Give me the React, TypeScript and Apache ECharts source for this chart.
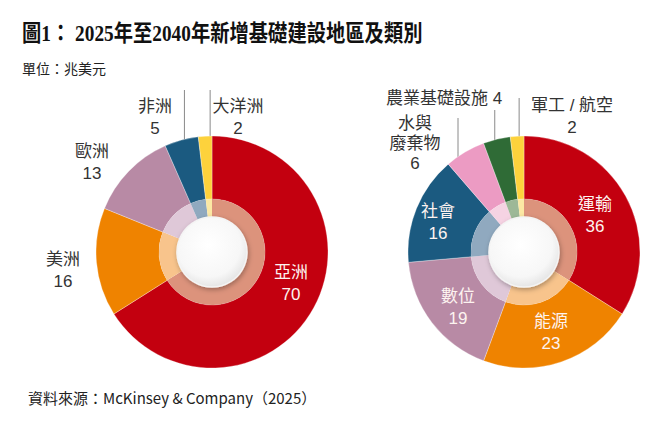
import React, { useEffect, useRef } from "react";
import * as echarts from "echarts";

// ---- data ----
const titleText = "圖1： 2025年至2040年新增基礎建設地區及類別";
const unitText = "單位：兆美元";
const sourceText = "資料來源：McKinsey & Company（2025）";

const regionNames = ["亞洲", "美洲", "歐洲", "非洲", "大洋洲"];
const regionValues = [70, 16, 13, 5, 2];

const typeNames = ["運輸", "能源", "數位", "社會", "水與\n廢棄物", "農業基礎設施", "軍工 / 航空"];
const typeValues = [36, 23, 19, 16, 6, 4, 2];

// ---- styles ----
const regionColors = ["#c3000f", "#ef8300", "#b88aa5", "#1b5a80", "#fdd23c"];
const regionRing = ["#dc937c", "#f8c48c", "#dfc8d8", "#90a9bf", "#fce8a4"];
const typeColors = ["#c3000f", "#ef8300", "#b88aa5", "#1b5a80", "#ec9bc3", "#2f6b36", "#fdd23c"];
const typeRing = ["#dc937c", "#f8c48c", "#dfc8d8", "#90a9bf", "#f6d3e3", "#9db897", "#fce8a4"];

type LabelPos = {
  x: number;
  y: number;
  inside?: boolean;
  lineTop?: number;
  lineDx?: number;
  oneLine?: boolean;
  lh?: number;
};
const regionLabelPos: LabelPos[] = [
  { x: 291, y: 283, inside: true },
  { x: 63, y: 270 },
  { x: 92, y: 162 },
  { x: 155, y: 117, lineTop: 90, lineDx: 3 },
  { x: 238, y: 117, lineTop: 90, lineDx: 5 },
];
const typeLabelPos: LabelPos[] = [
  { x: 595, y: 215, inside: true },
  { x: 551, y: 332, inside: true },
  { x: 458, y: 307, inside: true },
  { x: 438, y: 222, inside: true },
  { x: 415, y: 143, lineTop: 118, lh: 20, lineDx: -7 },
  { x: 444, y: 98, lineTop: 110, oneLine: true, lineDx: -2 },
  { x: 572, y: 116, lineTop: 98, lineDx: 2 },
];

const LABEL_FONT = "'Liberation Sans', 'Noto Sans CJK TC', sans-serif";
const CJK_FONT = "'Noto Sans CJK TC', 'Noto Sans', sans-serif";

function buildPie(
  center: [number, number],
  names: string[],
  values: number[],
  colors: string[],
  ring: string[],
  pos: LabelPos[]
) {
  const total = values.reduce((a, b) => a + b, 0);
  const edgePoint = (i: number): [number, number] => {
    let cum = 0;
    for (let k = 0; k < i; k++) cum += values[k];
    const ang = ((90 - ((cum + values[i] / 2) / total) * 360) * Math.PI) / 180;
    return [center[0] + 116 * Math.cos(ang), center[1] - 116 * Math.sin(ang)];
  };
  const main = {
    type: "pie",
    center,
    radius: [53, 116],
    startAngle: 90,
    clockwise: true,
    avoidLabelOverlap: false,
    emphasis: { disabled: true },
    itemStyle: { borderColor: "rgba(255,255,255,0.6)", borderWidth: 0.5 },
    data: names.map((n, i) => ({
      name: n,
      value: values[i],
      itemStyle: { color: colors[i] },
      label: {
        show: true,
        position: pos[i].inside ? "inside" : "outside",
        formatter: pos[i].oneLine ? "{b} {c}" : "{b}\n{c}",
        color: pos[i].inside ? "#fdf3f0" : "#333333",
        fontSize: 17,
        lineHeight: pos[i].lh ?? 22,
        fontFamily: LABEL_FONT,
        align: "center",
      },
      labelLine: {
        show: pos[i].lineTop !== undefined,
        lineStyle: { color: "#8a8a8a", width: 1 },
      },
    })),
    labelLayout: (params: any) => {
      const p = pos[params.dataIndex];
      const res: any = { x: p.x, y: p.y, align: "center", verticalAlign: "middle", hideOverlap: false };
      if (p.lineTop !== undefined) {
        const start =
          params.labelLinePoints && params.labelLinePoints[0]
            ? params.labelLinePoints[0]
            : edgePoint(params.dataIndex);
        const lx = start[0] + (p.lineDx ?? 0);
        // keep the line's foot on the outer edge of the slice
        const dx = lx - center[0];
        const footY = center[1] - Math.sqrt(Math.max(0, 116 * 116 - dx * dx)) + 0.5;
        res.labelLinePoints = [
          [lx, footY],
          [lx, p.lineTop],
          [lx, p.lineTop],
        ];
      }
      return res;
    },
  };
  const ringSeries = {
    type: "pie",
    center,
    radius: [35, 53],
    startAngle: 90,
    clockwise: true,
    silent: true,
    emphasis: { disabled: true },
    label: { show: false },
    labelLine: { show: false },
    data: names.map((n, i) => ({ name: n, value: values[i], itemStyle: { color: ring[i] } })),
  };
  const hub = {
    type: "pie",
    center,
    radius: [0, 35],
    silent: true,
    emphasis: { disabled: true },
    label: { show: false },
    labelLine: { show: false },
    itemStyle: {
      color: {
        type: "radial",
        x: 0.45,
        y: 0.4,
        r: 0.65,
        colorStops: [
          { offset: 0, color: "#ffffff" },
          { offset: 0.7, color: "#f7f7f7" },
          { offset: 1, color: "#e0e0e0" },
        ],
      },
      borderColor: "#f4f4f4",
      borderWidth: 1.5,
      shadowBlur: 5,
      shadowColor: "rgba(0,0,0,0.3)",
      shadowOffsetX: 1,
      shadowOffsetY: 2,
    },
    data: [{ name: "hub", value: 1 }],
  };
  return [main, ringSeries, hub];
}

export default function App() {
  const ref = useRef<HTMLDivElement>(null);
  useEffect(() => {
    if (!ref.current) return;
    const chart = echarts.init(ref.current, undefined, { renderer: "svg" });
    chart.setOption({
      animation: false,
      backgroundColor: "#ffffff",
      title: [
        {
          text: unitText,
          left: 22,
          top: 61,
          padding: 0,
          textStyle: { fontFamily: CJK_FONT, fontWeight: "normal", fontSize: 14, color: "#222222" },
        },
        {
          text: sourceText,
          left: 28,
          top: 390,
          padding: 0,
          textStyle: { fontFamily: CJK_FONT, fontWeight: "normal", fontSize: 15, color: "#222222" },
        },
      ],
      graphic: [
        {
          type: "text",
          x: 22,
          y: 33,
          scaleX: 0.84,
          silent: true,
          style: {
            text: titleText,
            font: "bold 23px 'Liberation Serif', 'Noto Sans CJK TC', serif",
            fill: "#111111",
            verticalAlign: "middle",
          },
        },
      ],
      series: [
        ...buildPie([212, 252], regionNames, regionValues, regionColors, regionRing, regionLabelPos),
        ...buildPie([524, 252], typeNames, typeValues, typeColors, typeRing, typeLabelPos),
      ],
    });
    return () => chart.dispose();
  }, []);
  return (
    <div
      ref={ref}
      style={{ position: "fixed", left: 0, top: 0, width: 660, height: 425, background: "#fff" }}
    />
  );
}
